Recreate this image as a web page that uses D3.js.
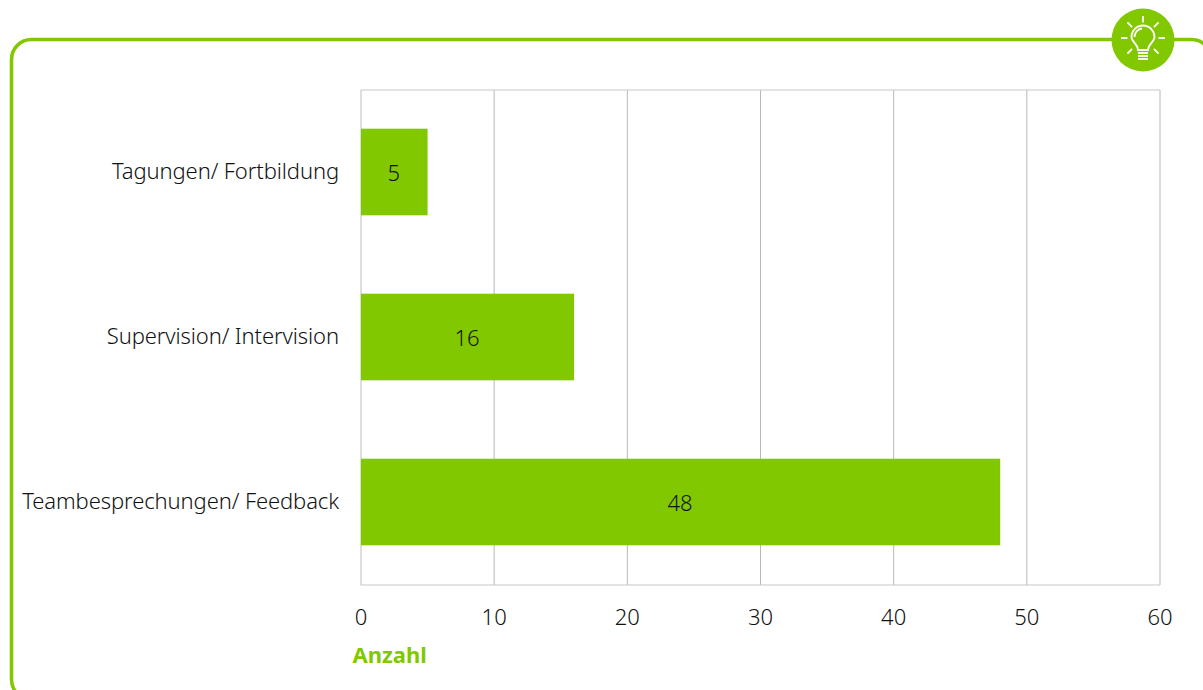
<!DOCTYPE html>
<html><head><meta charset="utf-8">
<script src="https://cdn.jsdelivr.net/npm/d3@7/dist/d3.min.js"></script>
<style>
html,body{margin:0;background:#fff;overflow:hidden}
text{font-family:"Noto Sans",sans-serif;font-weight:300;fill:#111}
</style></head><body><div id="chart"></div>
<script>
const categories = ["Tagungen/ Fortbildung", "Supervision/ Intervision", "Teambesprechungen/ Feedback"];
const counts = [5, 16, 48];
const xTicks = [0, 10, 20, 30, 40, 50, 60];
const axisTitle = "Anzahl";
const green = "#82c800", grid = "#b8b8b8", frame = "#c8c8c8";
const labelSize = 22, labelSpacing = -0.1;
const plotTop = 90, plotBottom = 585;

const svg = d3.select("#chart").append("svg").attr("width", 1203).attr("height", 690);

// Rounded card outline; its right and bottom edges run past the page
svg.append("rect").attr("x", 11.5).attr("y", 39.5).attr("width", 1200).attr("height", 660)
  .attr("rx", 20).attr("fill", "#fff").attr("stroke", green).attr("stroke-width", 3.6);

const x = d3.scaleLinear().domain([0, 60]).range([361, 1160]);
const y = d3.scaleBand().domain(categories).range([plotTop - 0.5, plotBottom - 0.5])
  .paddingInner(0.475).paddingOuter(0.2375);

// Vertical grid and plot frame
svg.append("g").selectAll("line").data(xTicks.slice(1)).join("line")
  .attr("x1", d => x(d)).attr("x2", d => x(d)).attr("y1", plotTop).attr("y2", plotBottom)
  .attr("stroke", grid).attr("stroke-width", 1);
svg.append("path").attr("d", `M${x(0)},${plotTop}H${x(60)}M${x(0)},${plotTop}V${plotBottom}H${x(60)}`)
  .attr("fill", "none").attr("stroke", frame).attr("stroke-width", 1.2);

svg.append("g").selectAll("rect").data(counts).join("rect")
  .attr("x", x(0)).attr("y", (d, i) => y(categories[i]))
  .attr("width", d => x(d) - x(0)).attr("height", y.bandwidth()).attr("fill", green);

const mid = c => y(c) + y.bandwidth() / 2;

svg.append("g").selectAll("text").data(counts).join("text")
  .attr("x", d => x(d / 2) - 0.5).attr("y", (d, i) => mid(categories[i]) + 9)
  .attr("text-anchor", "middle").attr("font-size", labelSize).text(d => d);

svg.append("g").selectAll("text").data(categories).join("text")
  .attr("x", 339).attr("y", d => mid(d) + 7)
  .attr("text-anchor", "end").attr("font-size", labelSize)
  .attr("letter-spacing", labelSpacing).text(d => d);

svg.append("g").selectAll("text").data(xTicks).join("text")
  .attr("x", d => x(d)).attr("y", 625)
  .attr("text-anchor", "middle").attr("font-size", labelSize).text(d => d);

svg.append("text").attr("x", 352.5).attr("y", 663).attr("font-size", 22)
  .style("font-weight", 700).style("fill", green).text(axisTitle);

// Light-bulb badge sitting on the top edge of the card
const badge = svg.append("g").attr("transform", "translate(1143,40)");
badge.append("circle").attr("r", 31.5).attr("fill", green);
const ink = badge.append("g").attr("fill", "none").attr("stroke", "#fff")
  .attr("stroke-width", 1.8).attr("transform", "translate(0,-2)");
[180, -135, -90, -45, 0, 45, 135].forEach(a => {
  const r = a * Math.PI / 180;
  ink.append("line").attr("x1", 15.5 * Math.cos(r)).attr("y1", 15.5 * Math.sin(r))
    .attr("x2", 22 * Math.cos(r)).attr("y2", 22 * Math.sin(r));
});
ink.append("path").attr("d", "M-5,12C-5,6 -11.5,4 -11.5,-1A11.5,11.5 0 1 1 11.5,-1C11.5,4 5,6 5,12Z");
ink.append("path").attr("d", "M-8.5,-1A8.5,8.5 0 0 1 -1,-9.5");
ink.selectAll("line.base").data([15, 18, 21]).join("line").attr("class", "base")
  .attr("x1", -5).attr("x2", 5).attr("y1", d => d).attr("y2", d => d);
</script></body></html>
